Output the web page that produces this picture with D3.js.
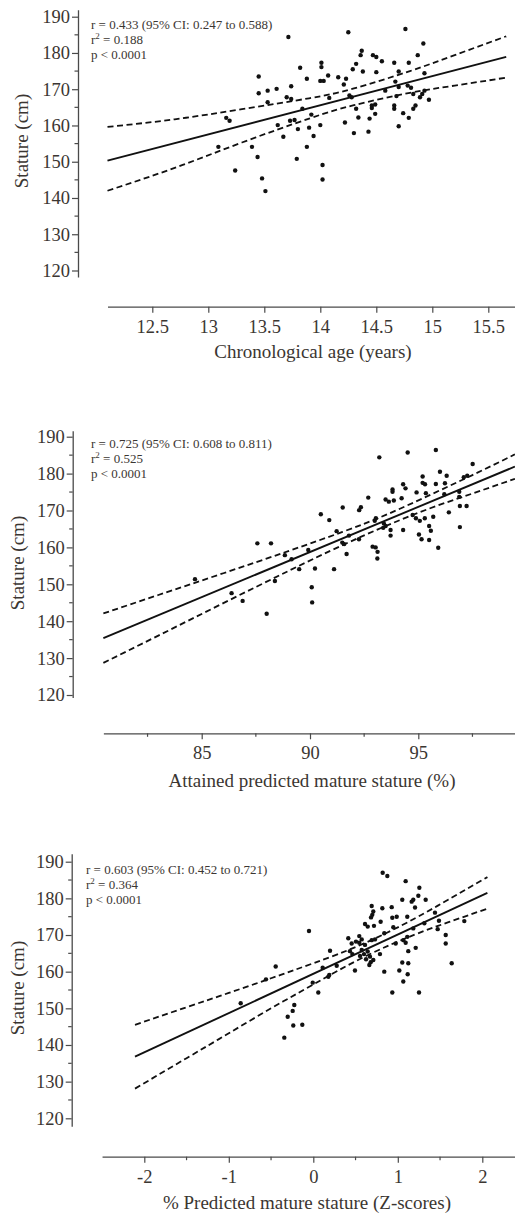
<!DOCTYPE html>
<html><head><meta charset="utf-8">
<script src="https://cdn.jsdelivr.net/npm/d3@7"></script>
<style>body{margin:0;background:#fff} svg{display:block}</style>
</head><body>
<svg id="c" width="515" height="1214"></svg>
<script>
// ---------------- DATA ----------------
// Panel 1: Chronological age (years) vs Stature (cm)
const p1Age = [13.45,13.45,13.16,13.19,13.09,13.39,13.44,13.24,13.51,
 13.715,14.25,14.76,14.92,14.87,14.37,14.36,14.47,14.50,14.55,14.66,14.79,14.32,14.29,14.38,14.50,14.70,14.93,14.01,14.01,13.82,13.88,14.00,14.03,14.07,14.16,14.23,14.21,14.67,14.70,14.78,14.81,14.93,14.91,14.83,14.89,14.97,14.58,14.68,14.26,14.28,14.08,13.74,13.70,13.74,13.53,13.61,13.53,13.84,13.92,14.46,14.49,14.46,14.32,14.66,14.66,14.85,14.83,14.74,14.79,14.34,14.44,14.49,14.22,14.70,13.73,13.77,13.62,13.80,13.90,14.00,13.67,13.94,14.30,14.43,13.88,13.79,14.02,13.48,14.02];
const p1Stature = [173.5,168.9,162.1,161.3,154.1,154.1,151.3,147.6,141.9,
 184.4,185.7,186.6,182.6,179.4,180.6,179.4,179.4,178.9,177.7,177.3,177.3,177.0,175.5,174.9,174.7,174.9,174.4,177.3,176.1,175.9,172.9,172.3,172.3,173.8,173.3,172.9,171.3,172.1,170.6,171.0,170.4,169.6,168.7,168.7,167.8,167.1,169.6,168.1,168.3,167.8,167.6,170.8,167.8,167.3,169.6,170.1,166.4,164.6,163.0,165.5,165.8,164.8,164.6,165.5,164.6,165.5,164.6,163.4,162.1,162.2,161.9,163.2,160.8,159.8,161.3,161.5,160.1,159.0,159.4,160.1,156.9,157.1,157.9,158.3,154.1,150.8,149.1,145.4,145.1];
const p1FitX = [12.1, 15.66];
const p1FitY = [150.3, 178.9];
const p1BandX = [12.1, 12.7, 13.3, 13.9, 14.3, 14.8, 15.2, 15.66];
const p1Upper = [159.6, 161.7, 164.5, 167.5, 170.2, 175.0, 179.4, 184.6];
const p1Lower = [142.0, 148.3, 155.3, 161.9, 165.6, 169.0, 171.0, 173.2];
const p1Ticks = [12.5, 13, 13.5, 14, 14.5, 15, 15.5];
const p1Minor = [];
const p1Stats = ["r = 0.433 (95% CI: 0.247 to 0.588)", "0.188", "p < 0.0001"];

// Panel 2: Attained predicted mature stature (%) vs Stature (cm)
const p2Pct = [84.69,86.38,86.89,88.0,90.1,
 93.20,94.51,95.81,97.51,96.0,96.31,95.2,95.2,95.31,95.81,96.23,97.1,97.26,94.3,94.41,93.81,93.81,94.92,95.35,96.2,96.89,96.89,93.49,93.64,93.87,94.23,92.69,92.35,92.27,91.51,90.5,90.89,93.04,92.99,94.89,95.07,94.74,95.30,95.69,96.41,96.92,97.23,93.41,93.49,93.38,93.72,93.72,94.30,95.50,95.58,96.92,91.23,91.8,91.49,91.58,92.26,92.89,93.03,93.12,93.11,95.03,95.15,95.50,95.92,91.69,88.84,89.92,89.15,87.57,88.2,89.5,90.23,91.11,88.38,90.08];
const p2Stature = [151.4,147.6,145.5,142.0,145.1,
 184.4,185.7,186.4,182.6,180.5,179.4,179.2,177.5,177.1,177.2,177.4,179.0,179.4,177.1,176.0,175.7,175.1,174.9,174.7,174.4,175.1,173.7,173.0,172.4,172.7,173.3,173.5,170.9,170.1,170.8,169.0,167.4,167.9,167.2,167.9,167.2,168.8,167.9,168.3,169.5,171.2,171.2,166.5,165.8,165.3,164.7,163.2,164.7,165.8,164.5,165.5,164.4,163.2,161.3,160.9,162.2,160.2,160.0,158.8,157.0,163.5,162.2,162.0,159.9,158.2,157.9,159.3,156.8,161.1,161.1,154.1,154.3,154.1,150.9,149.2];
const p2FitX = [80.46, 99.46];
const p2FitY = [135.4, 181.9];
const p2BandX = [80.46, 83, 86, 89, 91.5, 93.5, 95.5, 97.5, 99.46];
const p2Upper = [142.1, 147.1, 153.0, 159.0, 164.2, 168.8, 174.1, 179.6, 185.2];
const p2Lower = [128.7, 136.1, 144.9, 153.6, 160.6, 165.8, 170.5, 174.6, 178.6];
const p2Ticks = [85, 90, 95];
const p2Minor = [82.5, 87.5, 92.5, 97.5];
const p2Stats = ["r = 0.725 (95% CI: 0.608 to 0.811)", "0.525", "p < 0.0001"];

// Panel 3: % Predicted mature stature (Z-scores) vs Stature (cm)
const p3Z = [0.821,0.876,1.093,1.255,1.243,1.183,1.164,1.330,1.053,1.204,0.691,0.710,0.698,0.683,0.817,0.928,0.935,0.987,1.112,1.44,1.487,1.787,0.797,0.612,0.644,0.718,1.314,0.947,-0.051,0.414,0.544,0.573,0.840,1.183,1.112,1.472,1.567,1.567,0.454,0.505,0.544,0.612,0.691,0.730,0.975,1.065,1.093,1.212,0.198,0.434,0.462,0.573,0.600,0.553,0.644,0.671,0.624,0.679,0.789,0.710,0.663,1.124,1.053,1.124,1.638,0.277,0.111,0.189,0.178,-0.445,-0.560,-0.007,0.493,0.840,1.018,1.117,1.065,0.059,0.935,1.251,-0.859,-0.225,-0.244,-0.303,-0.237,-0.130,-0.343];
const p3Stature = [187.0,186.1,184.7,182.9,180.7,179.6,179.1,179.6,179.6,177.5,177.9,176.4,175.5,174.8,177.3,177.6,174.7,175.0,175.0,176.1,173.9,173.8,173.6,173.0,172.3,172.5,173.2,172.1,171.1,169.1,169.7,168.8,170.5,171.8,169.5,171.6,170.0,167.7,167.7,168.2,167.9,167.3,168.6,168.8,167.7,168.6,167.9,166.5,165.7,165.6,164.8,165.9,164.8,164.3,165.5,164.1,163.4,162.6,164.8,163.2,161.8,165.6,162.5,162.3,162.3,161.6,161.1,159.1,158.6,161.4,157.9,157.0,160.3,160.0,160.3,159.3,157.3,154.3,154.3,154.3,151.4,150.9,149.3,147.7,145.3,145.5,142.0];
const p3FitX = [-2.11, 2.06];
const p3FitY = [136.8, 181.5];
const p3BandX = [-2.11, -1.5, -1, -0.5, 0, 0.6, 1.2, 1.6, 2.06];
const p3Upper = [145.5, 150.3, 154.2, 158.2, 162.3, 167.7, 174.5, 179.7, 185.8];
const p3Lower = [128.1, 136.4, 143.2, 150.0, 156.5, 164.0, 170.1, 173.5, 177.2];
const p3Ticks = [-2, -1, 0, 1, 2];
const p3Minor = [-1.5, -0.5, 0.5, 1.5];
const p3Stats = ["r = 0.603 (95% CI: 0.452 to 0.721)", "0.364", "p < 0.0001"];

const yTicks = [120, 130, 140, 150, 160, 170, 180, 190];
const yMinor = [125, 135, 145, 155, 165, 175, 185];
const yTitle = "Stature (cm)";
const xTitles = ["Chronological age (years)", "Attained predicted mature stature (%)", "% Predicted mature stature (Z-scores)"];

// ---------------- LAYOUT ----------------
const layout = [
  {yAxisX:78,   y190:16.7,  y120:270.5,  yExt:[118.2,191.9], xAxisY:306.7,  xA:[12.5,152.3], xB:[15.5,488.3], xExt:[12.1,15.74], statX:91, statY:28.5, yTitleX:22, yTitleY:141, xTitleX:313, xTitleY:358},
  {yAxisX:72.7, y190:436.7, y120:695,    yExt:[119.3,191.6], xAxisY:733.3,  xA:[85,201.7],   xB:[95,418.3],   xExt:[80.46,99.5], statX:91, statY:448, yTitleX:18, yTitleY:563, xTitleX:312, xTitleY:787},
  {yAxisX:71.7, y190:861.7, y120:1118.3, yExt:[117.8,192.2], xAxisY:1156.7, xA:[-2,144.3],   xB:[2,482.3],    xExt:[-2.5,2.39],  statX:86, statY:873.5, yTitleX:18, yTitleY:988, xTitleX:307, xTitleY:1208.5}
];
const data = [
  {xs:p1Age, ys:p1Stature, fitX:p1FitX, fitY:p1FitY, bx:p1BandX, up:p1Upper, lo:p1Lower, ticks:p1Ticks, minor:p1Minor, stats:p1Stats, fmt:d3.format("")},
  {xs:p2Pct, ys:p2Stature, fitX:p2FitX, fitY:p2FitY, bx:p2BandX, up:p2Upper, lo:p2Lower, ticks:p2Ticks, minor:p2Minor, stats:p2Stats, fmt:d3.format("")},
  {xs:p3Z,   ys:p3Stature, fitX:p3FitX, fitY:p3FitY, bx:p3BandX, up:p3Upper, lo:p3Lower, ticks:p3Ticks, minor:p3Minor, stats:p3Stats, fmt:d => d < 0 ? "-" + Math.abs(d) : String(d)}
];

const svg = d3.select("#c");
const FONT = "'Liberation Serif', 'DejaVu Serif', serif";
const TXT = "#3b3632";
const AX = "#4a4a4a";

data.forEach((d, i) => {
  const L = layout[i];
  const g = svg.append("g");
  const y0 = d3.scaleLinear().domain([120, 190]).range([L.y120, L.y190]);
  const y = d3.scaleLinear().domain(L.yExt).range([y0(L.yExt[0]), y0(L.yExt[1])]);
  const x0 = d3.scaleLinear().domain([L.xA[0], L.xB[0]]).range([L.xA[1], L.xB[1]]);
  const x = d3.scaleLinear().domain(L.xExt).range([x0(L.xExt[0]), x0(L.xExt[1])]);

  // Y axis
  const yAx = g.append("g").attr("transform", `translate(${L.yAxisX},0)`)
    .call(d3.axisLeft(y).tickValues(yTicks).tickSize(6).tickPadding(2).tickSizeOuter(0));
  yAx.append("g").selectAll("line").data(yMinor).join("line")
    .attr("x1", -3.5).attr("x2", 0).attr("y1", v => y(v)).attr("y2", v => y(v));
  // X axis
  const xAx = g.append("g").attr("transform", `translate(0,${L.xAxisY})`)
    .call(d3.axisBottom(x).tickValues(d.ticks).tickFormat(d.fmt).tickSize(6).tickPadding(7).tickSizeOuter(0));
  xAx.append("g").selectAll("line").data(d.minor).join("line")
    .attr("y1", 0).attr("y2", 3.5).attr("x1", v => x(v)).attr("x2", v => x(v));
  [yAx, xAx].forEach(a => {
    a.select(".domain").attr("stroke", AX).attr("stroke-width", 1.3);
    a.selectAll("line").attr("stroke", AX).attr("stroke-width", 1.2);
    a.selectAll("text").attr("font-family", FONT).attr("font-size", 18.5).attr("fill", TXT);
  });

  // CI bands
  const band = d3.line().x(p => x(p[0])).y(p => y(p[1])).curve(d3.curveNatural);
  [d.up, d.lo].forEach(arr => {
    g.append("path").datum(d.bx.map((v, k) => [v, arr[k]]))
      .attr("d", band).attr("fill", "none").attr("stroke", "#111")
      .attr("stroke-width", 1.8).attr("stroke-dasharray", "6,3.5");
  });
  // Fit line
  g.append("path").datum(d.fitX.map((v, k) => [v, d.fitY[k]]))
    .attr("d", d3.line().x(p => x(p[0])).y(p => y(p[1])))
    .attr("fill", "none").attr("stroke", "#111").attr("stroke-width", 1.9);
  // Points
  g.append("g").selectAll("circle").data(d.xs.map((v, k) => [v, d.ys[k]])).join("circle")
    .attr("cx", p => x(p[0])).attr("cy", p => y(p[1])).attr("r", 2.2).attr("fill", "#111");

  // Stats text
  const st = g.append("text").attr("font-family", FONT).attr("font-size", 13).attr("fill", TXT);
  st.append("tspan").attr("x", L.statX).attr("y", L.statY).text(d.stats[0]);
  const t2 = st.append("tspan").attr("x", L.statX).attr("y", L.statY + 15);
  t2.append("tspan").text("r");
  t2.append("tspan").attr("dy", -5).attr("font-size", 9).text("2");
  t2.append("tspan").attr("dy", 5).text(" = " + d.stats[1]);
  st.append("tspan").attr("x", L.statX).attr("y", L.statY + 30).text(d.stats[2]);

  // Titles
  g.append("text").attr("transform", `translate(${L.yTitleX + 6},${L.yTitleY}) rotate(-90)`)
    .attr("text-anchor", "middle").attr("font-family", FONT).attr("font-size", 19).attr("fill", TXT).text(yTitle);
  g.append("text").attr("x", L.xTitleX).attr("y", L.xTitleY).attr("text-anchor", "middle")
    .attr("font-family", FONT).attr("font-size", 19).attr("fill", TXT).text(xTitles[i]);
});
</script>
</body></html>
